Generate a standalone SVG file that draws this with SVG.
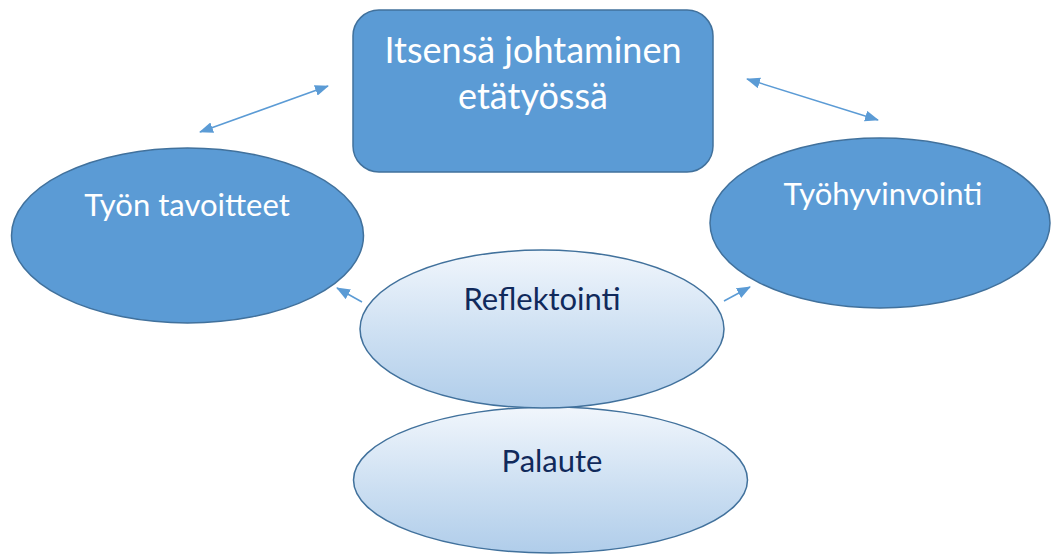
<svg xmlns="http://www.w3.org/2000/svg" width="1051" height="556" viewBox="0 0 1051 556">
  <defs>
    <linearGradient id="lightFill" x1="0" y1="0" x2="0" y2="1">
      <stop offset="0" stop-color="#F1F6FC"/>
      <stop offset="0.55" stop-color="#CCDFF2"/>
      <stop offset="1" stop-color="#B0CDEA"/>
    </linearGradient>
    <marker id="head" viewBox="0 0 14 11" refX="13" refY="5.5" markerWidth="14" markerHeight="11" markerUnits="userSpaceOnUse" orient="auto-start-reverse">
      <path d="M0,0 L14,5.5 L0,11 Z" fill="#5B9BD5"/>
    </marker>
    <style>
      .dark { fill: #5B9BD5; stroke: #41719C; stroke-width: 1.5; }
      .light { fill: url(#lightFill); stroke: #41719C; stroke-width: 1.5; }
      .wt { fill: #FFFFFF; font-family: "Lato", "Open Sans", sans-serif; text-anchor: middle; }
      .dt { fill: #10295B; font-family: "Lato", "Open Sans", sans-serif; text-anchor: middle; }
      .conn { stroke: #5B9BD5; stroke-width: 1.5; fill: none; }
    </style>
  </defs>
  <rect width="1051" height="556" fill="#FFFFFF"/>

  <g id="itsensa-johtaminen">
    <rect class="dark" x="353" y="10" width="360" height="162" rx="26" ry="26"/>
    <text class="wt" x="533" y="63" font-size="36">Itsensä johtaminen</text>
    <text class="wt" x="533" y="109" font-size="36">etätyössä</text>
  </g>

  <g id="tyon-tavoitteet">
    <ellipse class="dark" cx="187.5" cy="235.5" rx="176" ry="87.5"/>
    <text class="wt" x="187" y="216" font-size="31">Työn tavoitteet</text>
  </g>

  <g id="tyohyvinvointi">
    <ellipse class="dark" cx="880" cy="223" rx="170" ry="85"/>
    <text class="wt" x="883" y="205" font-size="31">Työhyvinvointi</text>
  </g>

  <g id="palaute">
    <ellipse class="light" cx="550.5" cy="480" rx="197" ry="73"/>
    <text class="dt" x="552" y="472" font-size="31">Palaute</text>
  </g>

  <g id="reflektointi">
    <ellipse class="light" cx="542" cy="329" rx="182" ry="79"/>
    <text class="dt" x="542" y="310" font-size="31">Reflektointi</text>
  </g>

  <g id="connectors">
    <line class="conn" x1="200" y1="132" x2="328" y2="86" marker-start="url(#head)" marker-end="url(#head)"/>
    <line class="conn" x1="747" y1="79" x2="878" y2="120" marker-start="url(#head)" marker-end="url(#head)"/>
    <line class="conn" x1="362" y1="302" x2="337" y2="288" marker-end="url(#head)"/>
    <line class="conn" x1="724" y1="301" x2="750" y2="287" marker-end="url(#head)"/>
  </g>
</svg>
